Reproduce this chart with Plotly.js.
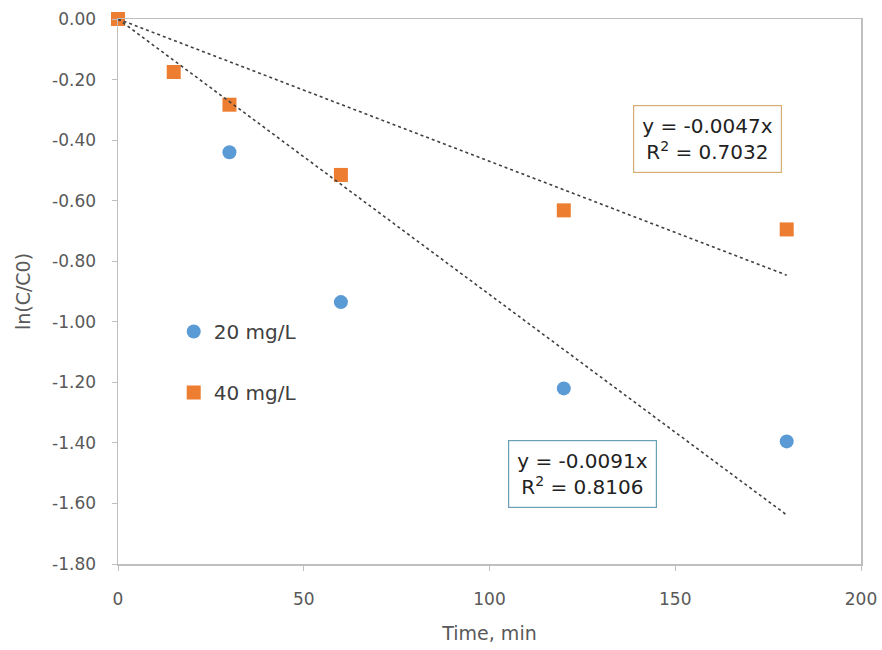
<!DOCTYPE html>
<html>
<head>
<meta charset="utf-8">
<script src="https://cdn.plot.ly/plotly-3.0.1.min.js"></script>
<style>html,body{margin:0;padding:0;background:#fff;}#chart{width:882px;height:650px;}</style>
</head>
<body>
<div id="chart"></div>
<script>
// Data
const time20 = [0, 30, 60, 120, 180];
const lnC20 = [0, -0.44, -0.935, -1.22, -1.395];
const time40 = [0, 15, 30, 60, 120, 180];
const lnC40 = [0, -0.175, -0.283, -0.515, -0.632, -0.695];
const seriesNames = ['20 mg/L', '40 mg/L'];
const trendSlopes = [-0.0091, -0.0047];
const trendR2 = ['0.8106', '0.7032'];
const trendX = [0, 180];
const xTicks = [0, 50, 100, 150, 200];
const yTickVals = [0, -0.2, -0.4, -0.6, -0.8, -1.0, -1.2, -1.4, -1.6, -1.8];
const yTickText = ['0.00', '-0.20', '-0.40', '-0.60', '-0.80', '-1.00', '-1.20', '-1.40', '-1.60', '-1.80'];

const font = '"DejaVu Sans", "Open Sans", sans-serif';
const blue = '#5B9BD5', orange = '#ED7D31';

const traces = [
  {x: time20, y: lnC20, name: seriesNames[0], type: 'scatter', mode: 'markers', cliponaxis: false,
   legendgroup: 'a', marker: {symbol: 'circle', size: 14, color: blue}},
  {x: time40, y: lnC40, name: seriesNames[1], type: 'scatter', mode: 'markers', cliponaxis: false,
   legendgroup: 'b', marker: {symbol: 'square', size: 14, color: orange}},
  {x: trendX, y: trendX.map(v => trendSlopes[0] * v), type: 'scatter', mode: 'lines', cliponaxis: false,
   showlegend: false, hoverinfo: 'skip', line: {color: '#404040', width: 1.6, dash: 'dot'}},
  {x: trendX, y: trendX.map(v => trendSlopes[1] * v), type: 'scatter', mode: 'lines', cliponaxis: false,
   showlegend: false, hoverinfo: 'skip', line: {color: '#404040', width: 1.6, dash: 'dot'}}
];

const eqText = (s, r) => 'y = ' + s.toFixed(4) + 'x<br>R<sup>2</sup> = ' + r;

const layout = {
  width: 882, height: 650,
  margin: {l: 118, r: 21, t: 19, b: 86},
  paper_bgcolor: '#fff', plot_bgcolor: '#fff',
  font: {family: font, color: '#595959', size: 17},
  showlegend: true,
  legend: {x: 0.075, y: 0.4625, xanchor: 'left', yanchor: 'top', bgcolor: 'rgba(0,0,0,0)',
    tracegroupgap: 32, font: {size: 20, color: '#404040', family: font}, itemwidth: 30},
  xaxis: {range: [0, 200], tickvals: xTicks, showgrid: false, zeroline: false,
    showline: true, linecolor: '#BFBFBF', linewidth: 1.5, mirror: true,
    ticks: 'outside', ticklen: 5, tickcolor: '#BFBFBF', ticklabelstandoff: 14,
    tickfont: {size: 17, color: '#595959'},
    title: {text: 'Time, min', font: {size: 19, color: '#595959'}, standoff: 19}},
  yaxis: {range: [-1.8, 0], tickvals: yTickVals, ticktext: yTickText, showgrid: false, zeroline: false,
    showline: true, linecolor: '#BFBFBF', linewidth: 1.5, mirror: true,
    ticks: 'outside', ticklen: 5, tickcolor: '#BFBFBF', ticklabelstandoff: 12,
    tickfont: {size: 17, color: '#595959'},
    title: {text: 'ln(C/C0)', font: {size: 19, color: '#595959'}, standoff: 16}},
  annotations: [
    {x: 158.8, y: -0.3947, xref: 'x', yref: 'y', text: eqText(trendSlopes[1], trendR2[1]), showarrow: false,
     font: {size: 20, color: '#222', family: font}, bordercolor: '#D4AE72', borderwidth: 1.2,
     borderpad: 8, bgcolor: '#fff', align: 'center'},
    {x: 125.0, y: -1.503, xref: 'x', yref: 'y', text: eqText(trendSlopes[0], trendR2[0]), showarrow: false,
     font: {size: 20, color: '#222', family: font}, bordercolor: '#6A9FB5', borderwidth: 1.2,
     borderpad: 8, bgcolor: '#fff', align: 'center'}
  ]
};

Plotly.newPlot('chart', traces, layout, {displayModeBar: false, staticPlot: true});
</script>
</body>
</html>
